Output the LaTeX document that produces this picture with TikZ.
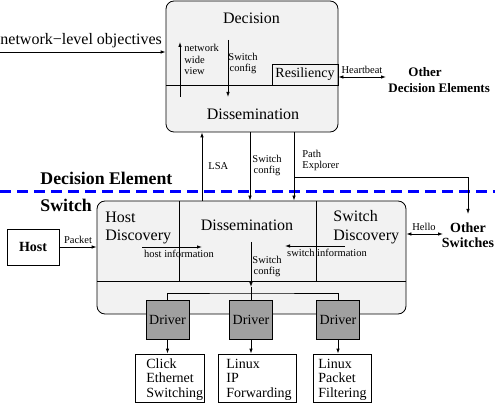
\documentclass[tikz,border=0pt]{standalone}
\usepackage{fontspec}
\setmainfont{Liberation Serif}
\usetikzlibrary{arrows.meta}
\definecolor{panelgray}{RGB}{242,242,242}
\definecolor{drivergray}{RGB}{160,160,160}
\definecolor{sepblue}{RGB}{0,0,255}
\begin{document}
\begin{tikzpicture}[x=1pt,y=-1pt,line width=0.8pt,
  >={Latex[length=5pt,width=3.5pt]},
  big/.style={font=\fontsize{16}{18}\selectfont,inner sep=0pt},
  sm/.style={font=\fontsize{10.5}{11.5}\selectfont,inner sep=0pt},
  bb/.style={font=\bfseries\fontsize{14}{15}\selectfont,inner sep=0pt},
  bigbold/.style={font=\bfseries\fontsize{17.8}{20}\selectfont,inner sep=0pt},
  tgt/.style={font=\fontsize{14}{14.5}\selectfont,inner sep=0pt,align=left},
  panel/.style={draw,fill=panelgray,rounded corners=8pt,inner sep=0pt},
  drv/.style={draw,fill=drivergray,minimum width=43pt,minimum height=39pt,inner sep=0pt,font=\fontsize{14}{15}\selectfont},
  plainbox/.style={draw,inner sep=0pt}
]
\useasboundingbox (0,0) rectangle (495,403);

% ---------- Decision element panel ----------
\node[panel,minimum width=172pt,minimum height=131pt] (de) at (252,66.5) {};
\draw (166,85) -- (338,85);
\node[plainbox,minimum width=66pt,minimum height=21pt,font=\fontsize{14}{15}\selectfont] (res) at (305,74.5) {Resiliency};
\node[big,anchor=base] (decision) at (251.5,24) {Decision};
\node[big,anchor=base] (dissTop) at (253,120) {Dissemination};
\node[sm,anchor=base west,align=left] (nwv) at (184,75) {network\\wide\\view};
\node[sm,anchor=base,align=center] (scTop) at (243,72) {Switch\\config};
\coordinate (nwvB) at (180,97);
\coordinate (nwvT) at (180,42);
\draw[->] (nwvB) -- (nwvT);
\coordinate (scT) at (228,40);
\coordinate (scB) at (228,97);
\draw[->] (scT) -- (scB);

% objectives
\node[big,anchor=base west] (obj) at (0,45) {network−level objectives};
\coordinate (objL) at (0,52);
\draw[->] (objL) -- (objL -| de.west);

% heartbeat
\coordinate (hbR) at (386,77);
\draw[<->] (de.east |- hbR) -- (hbR);
\node[sm,anchor=base] (hb) at (362,74) {Heartbeat};
\node[bb,anchor=base west,align=left,font=\bfseries\fontsize{13}{16}\selectfont] (ode) at (388,93) {\hspace*{20pt}Other\\Decision Elements};

% ---------- separator ----------
\draw[sepblue,line width=3pt,dash pattern=on 11pt off 6pt] (0,192) -- (495,192);
\node[bigbold,anchor=base west] (deLbl) at (40,185) {Decision Element};
\node[bigbold,anchor=base west] (swLbl) at (40,212) {Switch};

% ---------- Switch panel ----------
\node[panel,minimum width=309pt,minimum height=113pt] (sw) at (251.5,257.5) {};
\draw (97,281) -- (406,281);
\draw (179,201) -- (179,281);
\draw (316,201) -- (316,281);
\node[big,anchor=base west,align=left,font=\fontsize{16}{18}\selectfont] (hd) at (105,241) {Host\\Discovery};
\node[big,anchor=base] (dissSw) at (247,231) {Dissemination};
\node[big,anchor=base west,align=left,font=\fontsize{16}{19}\selectfont] (sd) at (333,241) {Switch\\Discovery};
\coordinate (hiL) at (142,247);
\coordinate (hiR) at (202,247);
\draw[->] (hiL) -- (hiR);
\node[sm,anchor=base] (hiLbl) at (179,258) {host information};
\coordinate (siR) at (345,246);
\coordinate (siL) at (285,246);
\draw[->] (siR) -- (siL);
\node[sm,anchor=base] (siLbl) at (327,257) {switch information};

% links between panels
\coordinate (lsaX) at (202,0);
\coordinate (scX) at (250,0);
\coordinate (peX) at (294,0);
\draw[->] (sw.north -| lsaX) -- (de.south -| lsaX);
\draw[->] (de.south -| scX) -- (sw.north -| scX);
\draw[->] (de.south -| peX) -- (sw.north -| peX);
\node[sm,anchor=base west] (lsaLbl) at (208,170) {LSA};
\node[sm,anchor=base,align=center] (scMid) at (267,174) {Switch\\config};
\node[sm,anchor=base west,align=left] (peLbl) at (302,169) {Path\\Explorer};
\coordinate (peJ) at (294,177);
\coordinate (osTop) at (468,214);
\draw[->] (peJ) -| (osTop);
\node[bb,anchor=base,align=center] (os) at (468,248) {Other\\Switches};
\coordinate (helloR) at (443,234);
\draw[<->] (sw.east |- helloR) -- (helloR);
\node[sm,anchor=base] (hello) at (424,231) {Hello};

% host
\node[plainbox,minimum width=52pt,minimum height=36pt,font=\bfseries\fontsize{14}{15}\selectfont] (host) at (33,247) {Host};
\draw[->] (host.east) -- (host.east -| sw.west);
\node[sm,anchor=base] (pkt) at (78,244) {Packet};

% internal switch config
\node[sm,anchor=base,align=center] (scIn) at (267,275) {Switch\\config};
\coordinate (sciT) at (251,242);
\coordinate (sciA) at (251,287);
\coordinate (bar) at (251,293);
\draw[->] (sciT) -- (sciA);

% drivers
\node[drv] (d1) at (167.5,319.5) {Driver};
\node[drv] (d2) at (251,319.5) {Driver};
\node[drv] (d3) at (338,319.5) {Driver};
\draw (sciA) -- (d2.north);
\draw (d1.north) |- (bar) -| (d3.north);

% targets
\node[plainbox,minimum width=69pt,minimum height=48pt] (t1) at (169.5,378) {};
\node[plainbox,minimum width=78pt,minimum height=48pt] (t2) at (257,378) {};
\node[plainbox,minimum width=58pt,minimum height=48pt] (t3) at (342,378) {};
\node[tgt,anchor=base west] (t1txt) at (146,397) {Click\\Ethernet\\Switching};
\node[tgt,anchor=base west] (t2txt) at (226,397) {Linux\\IP\\Forwarding};
\node[tgt,anchor=base west] (t3txt) at (318,397) {Linux\\Packet\\Filtering};
\draw[->] (d1.south) -- (d1.south |- t1.north);
\draw[->] (d2.south) -- (d2.south |- t2.north);
\draw[->] (d3.south) -- (d3.south |- t3.north);
\end{tikzpicture}
\end{document}
